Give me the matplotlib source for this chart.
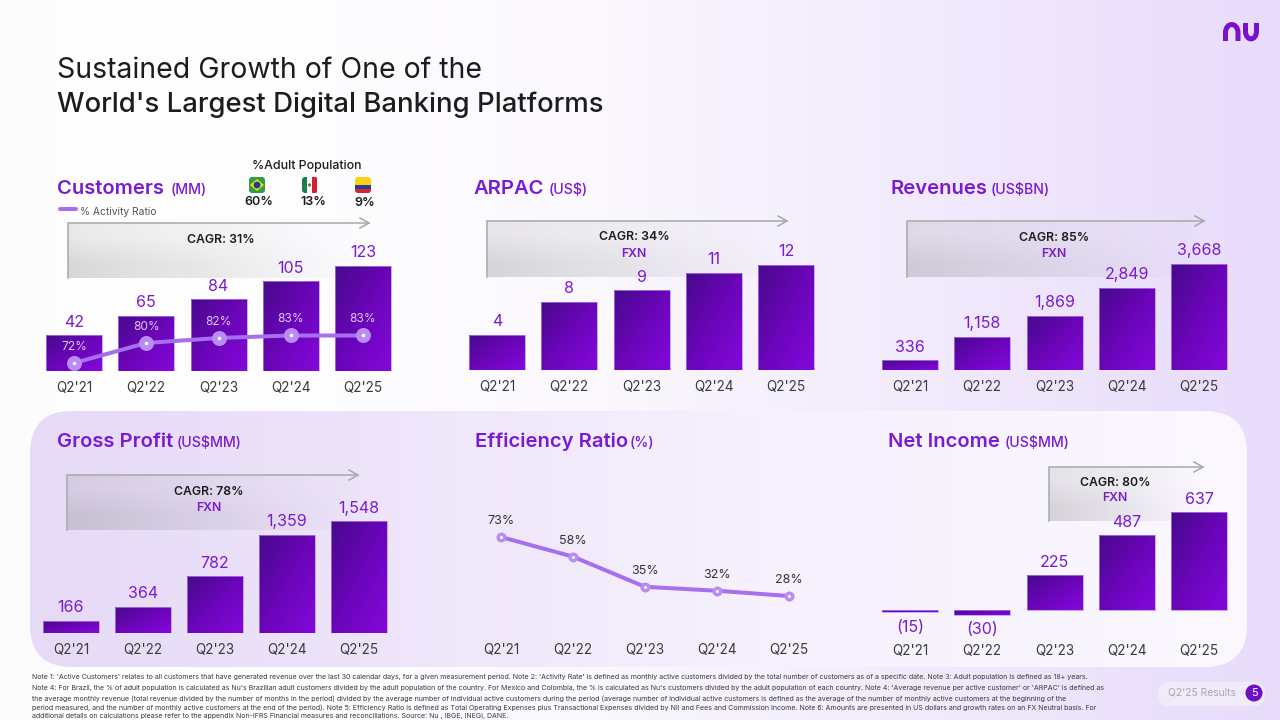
#!/usr/bin/env python3
"""Nu Q2'25 results slide: six small KPI charts on a lavender background."""
import numpy as np
import matplotlib; matplotlib.use("Agg"); import matplotlib.pyplot as plt
from matplotlib.colors import LinearSegmentedColormap, to_rgb
from matplotlib.patches import FancyBboxPatch, Circle, Rectangle, Polygon, PathPatch
from matplotlib.path import Path

plt.rcParams["font.family"] = ["Inter", "DejaVu Sans"]
W, H = 1280, 720
PURPLE = "#7a1bd2"; DARK = "#1c1c1c"; TICK = "#3a3a3a"; LINE = "#a66ff0"

quarters = ["Q2'21", "Q2'22", "Q2'23", "Q2'24", "Q2'25"]
customers = [42, 65, 84, 105, 123]
activity = [72, 80, 82, 83, 83]
arpac = [4.0, 7.8, 9.1, 11.1, 12.0]
arpac_labels = ["4", "8", "9", "11", "12"]
revenues = [336, 1158, 1869, 2849, 3668]
gross_profit = [166, 364, 782, 1359, 1548]
efficiency = [73, 58, 35, 32, 28]
net_income = [-15, -30, 225, 487, 637]
net_labels = ["(15)", "(30)", "225", "487", "637"]

notes = [
    "Note 1: 'Active Customers' relates to all customers that have generated revenue over the last 30 calendar days, for a given measurement period. Note 2: 'Activity Rate' is defined as monthly active customers divided by the total number of customers as of a specific date. Note 3: Adult population is defined as 18+ years.",
    "Note 4: For Brazil, the % of adult population is calculated as Nu's Brazilian adult customers divided by the adult population of the country. For Mexico and Colombia, the % is calculated as Nu's customers divided by the adult population of each country. Note 4: 'Average revenue per active customer' or 'ARPAC' is defined as",
    "the average monthly revenue (total revenue divided by the number of months in the period) divided by the average number of individual active customers during the period (average number of individual active customers is defined as the average of the number of monthly active customers at the beginning of the",
    "period measured, and the number of monthly active customers at the end of the period). Note 5: Efficiency Ratio is defined as Total Operating Expenses plus Transactional Expenses divided by NII and Fees and Commission Income. Note 6: Amounts are presented in US dollars and growth rates on an FX Neutral basis. For",
    "additional details on calculations please refer to the appendix Non-IFRS Financial measures and reconciliations. Source: Nu , IBGE, INEGI, DANE.",
]

def px(v): return v * 72 / 100  # pixels -> points at dpi 100

fig = plt.figure(figsize=(W / 100, H / 100), dpi=100)
bg = fig.add_axes([0, 0, 1, 1]); bg.set_xlim(0, W); bg.set_ylim(H, 0); bg.axis("off")

# ---- backgrounds ----
def hgrad(stops, extent, clip=None, zorder=0):
    xs = np.linspace(0, 1, 256)
    rgb = np.array([np.interp(xs, [s[0] for s in stops], [to_rgb(s[1])[i] for s in stops]) for i in range(3)]).T
    im = bg.imshow(rgb[None, :, :], extent=extent, aspect="auto", zorder=zorder, interpolation="bilinear")
    if clip is not None: im.set_clip_path(clip)
    return im
hgrad([(0, "#fbfbfc"), (.08, "#ffffff"), (.45, "#fbf9fe"), (.8, "#efe6fc"), (1, "#e8dcfb")], (0, W, H, 0))
panel = FancyBboxPatch((30 + 42, 411 + 42), 1217 - 84, 256 - 84, boxstyle="round,pad=42,rounding_size=42", fc="none", ec="none", zorder=1)
bg.add_patch(panel)
hgrad([(0, "#e6daf7"), (.3, "#eee5fa"), (.6, "#f6f1fd"), (1, "#fbf8ff")], (30, 1247, 667, 411), clip=panel, zorder=1)

# ---- CAGR arrow boxes ----
def cagr_box(x0, x1, y0, y1):
    grad = np.zeros((2, 256, 4)); grad[..., :3] = .5
    grad[..., 3] = np.linspace(.3, 0, 256) * np.array([[.55], [1]])
    bg.imshow(grad, extent=(x0, x1, y1, y0), aspect="auto", zorder=2, interpolation="bilinear")
    bg.plot([x0, x0, x1], [y1, y0, y0], color="#a8a8a8", lw=1.1, zorder=3, solid_joinstyle="miter")
    bg.plot([x1 - 9, x1, x1 - 9], [y0 - 5, y0, y0 + 5], color="#a8a8a8", lw=1.1, zorder=3)
def cagr_text(x, y, s, fxn=None, dy=17):
    bg.text(x, y + 1, s, ha="center", va="center", fontsize=px(12.3), fontweight="semibold", color=DARK, zorder=5)
    if fxn: bg.text(x, y + 1 + dy, fxn, ha="center", va="center", fontsize=px(12.3), fontweight="semibold", color=PURPLE, zorder=5)
cagr_box(68, 369, 223, 278); cagr_text(221, 239, "CAGR: 31%")
cagr_box(487, 787, 221, 277); cagr_text(634, 236, "CAGR: 34%", "FXN")
cagr_box(907, 1204, 221, 277); cagr_text(1054, 237, "CAGR: 85%", "FXN", 16)
cagr_box(67, 358, 475, 530); cagr_text(209, 491, "CAGR: 78%", "FXN", 16)
cagr_box(1049, 1203, 467, 521); cagr_text(1115, 482, "CAGR: 80%", "FXN", 15)

# ---- titles and headings ----
bg.text(57, 70, "Sustained Growth of One of the", fontsize=px(28.4), color=DARK, va="center", zorder=5)
bg.text(57, 105, "World's Largest Digital Banking Platforms", fontsize=px(27.5), fontweight="medium", color=DARK, va="center", zorder=5)
def heading(x, y, name, unit, ux):
    bg.text(x, y + 1, name, fontsize=px(20.2), fontweight="semibold", color=PURPLE, va="center", zorder=5)
    bg.text(ux, y + 2, unit, fontsize=px(14.2), fontweight="medium", color=PURPLE, va="center", zorder=5)
heading(57, 188, "Customers", "(MM)", 171)
heading(473, 188, "ARPAC", "(US$)", 549)
heading(890, 188, "Revenues", "(US$BN)", 991)
heading(57, 441, "Gross Profit", "(US$MM)", 177)
heading(475, 441, "Efficiency Ratio", "(%)", 630)
heading(888, 441, "Net Income", "(US$MM)", 1005)

# ---- adult population flags ----
bg.text(307, 166, "%Adult Population", ha="center", va="center", fontsize=px(12.4), fontweight="medium", color=DARK, zorder=5)
for x, s, y in [(259, "60%", 202), (313, "13%", 202), (365, "9%", 203)]:
    bg.text(x, y, s, ha="center", va="center", fontsize=px(12.6), fontweight="semibold", color=DARK, zorder=5)
def flag_frame(x):
    p = FancyBboxPatch((x + 3, 180), 10, 10, boxstyle="round,pad=3,rounding_size=3", fc="none", ec="none", zorder=5)
    bg.add_patch(p); return p
p = flag_frame(249)
bg.add_patch(Rectangle((249, 177), 16, 16, fc="#2f9e44", zorder=5, clip_path=p))
bg.add_patch(Polygon([(250, 185), (257, 179), (264, 185), (257, 191)], fc="#f7d417", zorder=6))
bg.add_patch(Circle((257, 185), 3.4, fc="#1d3f8f", zorder=7))
p = flag_frame(302)
for x, c in [(302, "#1b7f4b"), (307, "#f7f7f7"), (312, "#d0222e")]:
    bg.add_patch(Rectangle((x, 177), 5, 16, fc=c, zorder=5, clip_path=p))
bg.add_patch(Circle((309.5, 185), 1.6, fc="#8a6a3a", zorder=6))
p = flag_frame(355)
for y, h, c in [(177, 8, "#fbd116"), (185, 4, "#1f3f9a"), (189, 4, "#d8232f")]:
    bg.add_patch(Rectangle((355, y), 16, h, fc=c, zorder=5, clip_path=p))
bg.plot([60, 76], [209, 209], color=LINE, lw=px(4), solid_capstyle="round", zorder=5)
bg.text(80, 212, "% Activity Ratio", fontsize=px(10.3), color="#555555", va="center", zorder=5)

# ---- charts ----
BAR_CMAP = LinearSegmentedColormap.from_list("nu", ["#470a8c", "#6a05b8", "#8408dc"])
def chart_ax(c0, step, base, per_unit, below=0, above=150, tick_pad=10):
    r = [(c0 - step / 2) / W, 1 - (base + below) / H, 5 * step / W, (above + below) / H]
    ax = fig.add_axes(r, zorder=3); ax.patch.set_alpha(0)
    ax.set_xlim(-.5, 4.5); ax.set_ylim(-below / per_unit, above / per_unit)
    for s in ax.spines.values(): s.set_visible(False)
    ax.set_yticks([]); ax.set_xticks(range(5)); ax.set_xticklabels(quarters)
    ax.tick_params(axis="x", length=0, pad=px(tick_pad), labelsize=px(13.5), labelcolor=TICK)
    return ax
def bars(ax, vals, labels, step, dy=13):
    grad = np.add.outer(np.linspace(0, 1, 64), np.linspace(0, 1, 64))
    xl, yl = ax.get_xlim(), ax.get_ylim()
    for i, (v, b) in enumerate(zip(vals, ax.bar(range(5), vals, width=56 / step, fc="none", ec="#b48be8", lw=.5, zorder=3))):
        lo, hi = sorted((0, v))
        im = ax.imshow(grad, cmap=BAR_CMAP, extent=(i - 28 / step, i + 28 / step, lo, hi), origin="upper", aspect="auto", zorder=2)
        im.set_clip_path(b)
        if v >= 0:
            ax.annotate(labels[i], (i, v), xytext=(0, px(dy)), textcoords="offset points", ha="center", va="center",
                        fontsize=px(16), color=PURPLE, zorder=5)
    ax.set_xlim(xl); ax.set_ylim(yl)

# customers
ax = chart_ax(74, 72.25, 371, 105 / 123)
bars(ax, customers, [str(v) for v in customers], 72.25)
ax2 = ax.twinx(); ax2.patch.set_alpha(0)
ax2.set_ylim(72 - 8 / 2.5, 72 + 142 / 2.5)
ax2.axis("off"); ax2.set_zorder(ax.get_zorder() + 1)
ax2.plot(range(5), activity, color=LINE, lw=px(4), zorder=4, marker="o", ms=px(15), mfc="#b78df3", mec="none")
ax2.plot(range(5), activity, ls="none", marker="o", ms=px(3.5), mfc="white", mec="none", zorder=5)
for i, v in enumerate(activity):
    ax2.annotate(f"{v}%", (i, v), xytext=(0, px(16)), textcoords="offset points", ha="center", va="center",
                 fontsize=px(12), color="#dcc6f7", zorder=6)

# arpac
ax = chart_ax(497, 72.25, 370, 105 / 12)
bars(ax, arpac, arpac_labels, 72.25)
# revenues
ax = chart_ax(910, 72.25, 370, 106 / 3668)
bars(ax, revenues, [f"{v:,}" for v in revenues], 72.25)
# gross profit
ax = chart_ax(71, 72, 633, 112 / 1548)
bars(ax, gross_profit, [f"{v:,}" for v in gross_profit], 72)
# efficiency
ax = chart_ax(501, 72, 633, 59 / 45, above=200)
ax.set_ylim(28 - 37 * 45 / 59, 28 + 163 * 45 / 59)
ax.plot(range(5), efficiency, color=LINE, lw=px(4), marker="o", ms=px(10), mfc="#b78df3", mec="none", zorder=3)
ax.plot(range(5), efficiency, ls="none", marker="o", ms=px(3), mfc="white", mec="none", zorder=4)
for i, v in enumerate(efficiency):
    ax.annotate(f"{v}%", (i, v), xytext=(0, px(16)), textcoords="offset points", ha="center", va="center",
                fontsize=px(12.5), color="#333333", zorder=5)
# net income
ax = chart_ax(910, 72.25, 610, 98 / 637, below=24, above=130)
bars(ax, net_income, net_labels, 72.25)
for i, dy in [(0, 18), (1, 20)]:
    ax.annotate(net_labels[i], (i, 0), xytext=(0, -px(dy)), textcoords="offset points", ha="center", va="center",
                fontsize=px(16), color=PURPLE, zorder=5)

# ---- footnotes ----
for y, s in zip([677, 688, 699, 708, 716], notes):
    bg.text(32, y, s, fontsize=px(7.05), color="#3a3a3a", va="center", zorder=5)

# ---- page pill ----
bg.add_patch(FancyBboxPatch((1170, 694), 83, 0, boxstyle="round,pad=12,rounding_size=12", fc="#f0ebf8", ec="none", zorder=4))
bg.text(1202, 693, "Q2'25 Results", ha="center", va="center", fontsize=px(10.3), color="#a9a6b0", zorder=5)
bg.add_patch(Circle((1254, 693), 8.5, fc="#6f0fc4", zorder=5))
bg.text(1254, 693, "5", ha="center", va="center", fontsize=px(11), color="white", zorder=6)

# ---- logo ----
logo = Path([(1225.5, 41), (1225.5, 33), (1225.5, 21.7), (1238, 21.7), (1238, 33), (1238, 41),
             (1245.5, 23), (1245.5, 31), (1245.5, 41.5), (1256.5, 41.5), (1256.5, 31), (1256.5, 23)],
            [Path.MOVETO, Path.LINETO, Path.CURVE4, Path.CURVE4, Path.CURVE4, Path.LINETO,
             Path.MOVETO, Path.LINETO, Path.CURVE4, Path.CURVE4, Path.CURVE4, Path.LINETO])
bg.add_patch(PathPatch(logo, fc="none", ec="#7a10cf", lw=px(5), capstyle="butt", zorder=5))
bg.set_xlim(0, W); bg.set_ylim(H, 0)

fig.savefig("out.png", dpi=100)
